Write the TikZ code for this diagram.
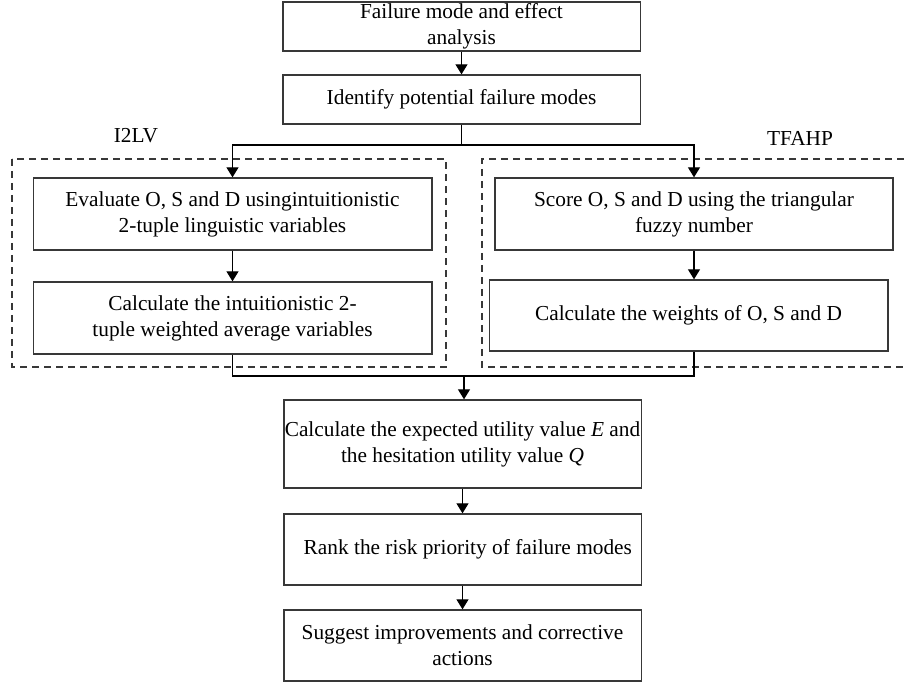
\documentclass[tikz,border=0pt]{standalone}
\usepackage{fontspec}
\setmainfont{Liberation Serif}
\usetikzlibrary{arrows.meta}
\definecolor{boxline}{HTML}{383838}
\tikzset{
        >={Triangle[width=9pt,length=7.5pt]},
        stage/.style = {draw=boxline, line width=1pt, align=center, inner sep=0pt,
                font=\fontsize{16}{19.5}\selectfont},
        midstage/.style = {stage, minimum width=268pt},
        sidestage/.style = {stage, minimum width=299pt, minimum height=54pt},
        method/.style = {font=\fontsize{16}{19.5}\selectfont},
        flow/.style = {draw=black, line width=0.9pt},
        frame/.style = {draw=boxline, line width=0.9pt, dash pattern=on 5.5pt off 3.5pt}
}

\begin{document}
\begin{tikzpicture}[x=0.75pt,y=-0.75pt]

        \useasboundingbox (0,0) rectangle (904,684);

        % Main column
        \node[midstage, minimum height=36.75pt] (fmea) at (461.5,26.5) {Failure mode and effect\\analysis};
        \node[midstage, minimum height=36.75pt] (ident) at (461.5,99.5) {Identify potential failure modes};

        % Dashed groups and their titles
        \draw [frame] (12,159) rectangle (446,367);
        \draw [frame] (904,159) -| (482,367) -- (904,367);
        \node[method] (ilv) at (136,136) {I2LV};
        \node[method] (tfahp) at (800,138) {TFAHP};

        % Left branch
        \node[sidestage] (eval) at (232.5,214) {Evaluate O, S and D usingintuitionistic\\2-tuple linguistic variables};
        \node[sidestage] (average) at (232.5,318) {Calculate the intuitionistic 2-\\tuple weighted average variables};

        % Right branch
        \node[sidestage, minimum width=298.5pt] (score) at (694,214) {Score O, S and D using the triangular\\fuzzy number};
        \node[sidestage, minimum height=53.25pt] (weights) at (688.5,315.5) {Calculate the weights of O, S and D};

        % Lower part of the column
        \node[midstage, minimum height=66pt] (expect) at (462.5,444) {Calculate the expected utility value \textit{E} and\\the hesitation utility value \textit{Q}};
        \node[midstage, minimum height=53.25pt] (rank) at (462.5,549.5) {\hspace*{8pt}Rank the risk priority of failure modes};
        \node[midstage, minimum height=53.25pt] (suggest) at (462.5,645.5) {Suggest improvements and corrective\\actions};

        % Split and merge points
        \coordinate (split) at (461.5,145);
        \coordinate (merge) at (464,376);

        % Connectors
        \draw [flow,->] (fmea) -- (ident);
        \draw [flow] (ident) -- (split);
        \draw [flow,->] (split) -| (eval);
        \draw [flow,->] (split) -| (score);
        \draw [flow,->] (eval) -- (average);
        \draw [flow,->] (score.south) -- (score.south |- weights.north);
        \draw [flow] (average) |- (merge);
        \draw [flow] (score.south |- weights.south) |- (merge);
        \draw [flow,->] (merge) -- (merge |- expect.north);
        \draw [flow,->] (expect) -- (rank);
        \draw [flow,->] (rank) -- (suggest);

\end{tikzpicture}
\end{document}
